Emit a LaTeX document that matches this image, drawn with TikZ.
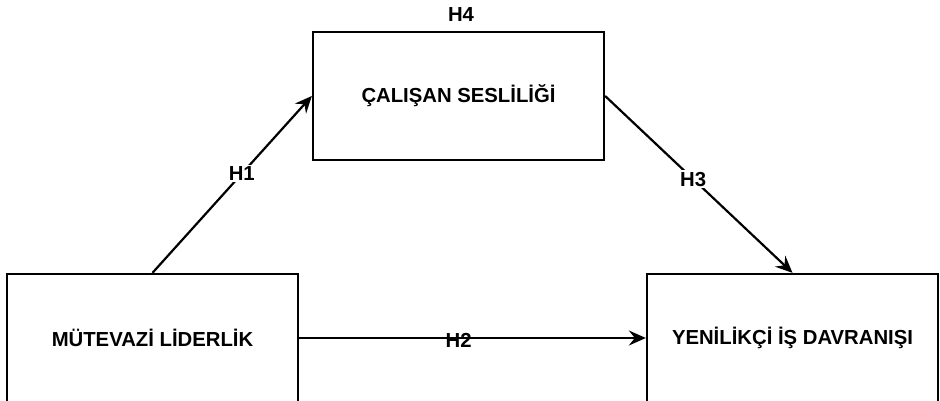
\documentclass[tikz,border=0pt]{standalone}
\usepackage{fontspec}
\setmainfont{Liberation Sans}
\usetikzlibrary{arrows.meta}
\begin{document}
\begin{tikzpicture}[x=1pt,y=-1pt,
  box/.style={draw=black, line width=2.3pt, minimum width=291pt, minimum height=128pt, inner sep=0pt,
    font=\fontsize{20.3}{24}\selectfont\bfseries},
  lbl/.style={font=\fontsize{20.3}{24}\selectfont\bfseries, inner sep=1.5pt},
  conn/.style={line width=2.2pt, -{Stealth[length=17pt,width=15pt,inset=6pt]}}]
\useasboundingbox (0,0) rectangle (940,401);
\node[box] (cs) at (458.5,96) {ÇALIŞAN SESLİLİĞİ};
\node[box] (ml) at (152.5,338) {MÜTEVAZİ LİDERLİK};
\node[box] (yd) at (792.5,338) {YENİLİKÇİ İŞ DAVRANIŞI};
\node[lbl] (h4) at (461,15) {H4};
\draw[conn] (ml.north) -- node[lbl, pos=0.56, fill=white] (h1) {H1} (cs.west);
\draw[conn] (cs.east) -- node[lbl, pos=0.47, fill=white] (h3) {H3} (yd.north);
\draw[conn] (ml.east) -- node[lbl, pos=0.46, yshift=-2pt] (h2) {H2} (yd.west);
\end{tikzpicture}
\end{document}
